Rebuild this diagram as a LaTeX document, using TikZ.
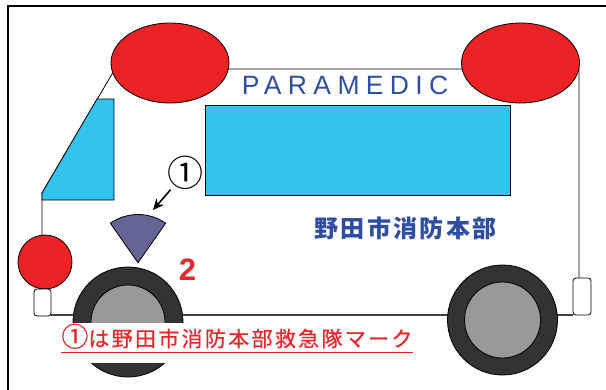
\documentclass[tikz,border=0pt]{standalone}
\usepackage{fontspec}
\setmainfont{Liberation Sans}
\newfontfamily\jpfont{Noto Sans CJK JP}
\newfontfamily\jpwide[LetterSpace=10]{Noto Sans CJK JP}
\newfontfamily\jpnote[LetterSpace=11, FakeBold=0.6]{Noto Sans CJK JP}
\newfontfamily\capwide[LetterSpace=24]{Liberation Sans}
\usetikzlibrary{arrows.meta, positioning, calc}

\definecolor{lampred}{HTML}{ED2224}
\definecolor{glassblue}{HTML}{33C3EE}
\definecolor{textblue}{HTML}{2F4EA1}
\definecolor{markpurple}{HTML}{646495}
\definecolor{tyre}{HTML}{333333}
\definecolor{hub}{HTML}{999999}
\definecolor{notered}{HTML}{E8262B}

\begin{document}
\begin{tikzpicture}[x=1pt, y=-1pt, line width=0.8pt,
    lamp/.style={draw=black, fill=lampred},
    glass/.style={draw=black, fill=glassblue},
    bumper/.style={draw=black, fill=white, rounded corners=3pt}]
	\useasboundingbox (0,0) rectangle (606,389);
	\clip (0,0) rectangle (606,389);

	% Frame
	\draw[line width=1.6pt] (8,400) -- (8,6) -- (620,6);

	% Body outline
	\draw (42,235) -- (42,193) -- (115,69) -- (579,69) -- (579,278);
	\draw[line width=1.2pt, black!75] (51,315) -- (573,315);

	% Windshield and side window
	\draw[glass] (97,99) -- (114,99) -- (114,200) -- (42,200) -- (42,193) -- cycle;
	\draw[glass] (205,105) rectangle (510,195);

	% Roof lamps
	\draw[lamp] (170,63) ellipse [x radius=59, y radius=40];
	\draw[lamp] (520.5,63) ellipse [x radius=59, y radius=40];

	% Headlight and bumpers
	\draw[lamp] (45,262) circle [radius=27];
	\draw[bumper] (34,289) rectangle (51,316);
	\draw[bumper] (573,278) rectangle (591,315);

	% Wheels
	\draw[fill=tyre] (128,322) circle [radius=55];
	\draw[fill=hub] (128,322) circle [radius=37];
	\draw[fill=tyre] (502.5,320) circle [radius=55];
	\draw[fill=hub] (502.5,320) circle [radius=38];

	% Lettering
	\node[text=textblue, font=\capwide\fontsize{26.5}{30}\selectfont, anchor=base west, inner sep=0] (badge) at (241.5,94.3) {PARAMEDIC};
	\node[text=textblue, font=\jpwide\bfseries\fontsize{24}{28}\selectfont, anchor=base west, inner sep=0] (dept) at (314,237) {野田市消防本部};

	% Mark 1 with its pointer
	\draw[fill=markpurple] (138,262.7) -- +(-125:48.2) arc [start angle=-125, end angle=-55, radius=48.2] -- cycle;
	\node[font=\jpfont\fontsize{36}{40}\selectfont, inner sep=0] (num1) at (185,173) {①};
	\coordinate (tip) at (153,210);
	\draw[-{Stealth[length=11pt, width=10pt]}, line width=1.6pt, shorten <=22pt] (num1.center) -- (tip);
	\node[text=notered, font=\bfseries\fontsize{31}{34}\selectfont, anchor=base west, inner sep=0] (num2) at (178.5,280) {2};

	% Caption
	\fill[white] (55,323) rectangle (420,363);
	\node[text=notered, font=\jpnote\fontsize{21}{24}\selectfont, anchor=base west, inner sep=0] (note) at (61,346.5) {{\fontsize{27}{24}\selectfont ①}は野田市消防本部救急隊マーク};
	\draw[notered, line width=1pt] ([yshift=-6pt]note.base west) -- ([yshift=-6pt]note.base east);
\end{tikzpicture}
\end{document}
